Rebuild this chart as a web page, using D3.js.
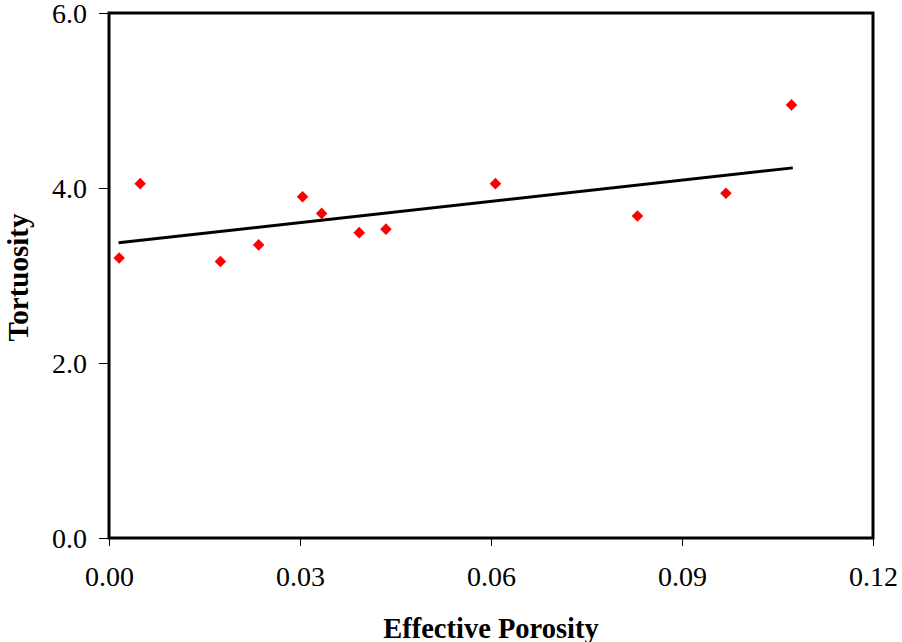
<!DOCTYPE html>
<html>
<head>
<meta charset="utf-8">
<script src="https://cdn.jsdelivr.net/npm/d3@7"></script>
<style>
  body { margin: 0; background: #fff; }
  svg { display: block; font-family: "Liberation Serif", "Times New Roman", serif; }
</style>
</head>
<body>
<div class="vis"></div>
<script>
// frame dimensions
const FRAME_WIDTH = 902;
const FRAME_HEIGHT = 642;
const MARGINS = {left: 109, right: 29, top: 13, bottom: 104};
const VIS_WIDTH = FRAME_WIDTH - MARGINS.left - MARGINS.right;
const VIS_HEIGHT = FRAME_HEIGHT - MARGINS.top - MARGINS.bottom;

// data
const porosity = [0.0016, 0.0049, 0.0175, 0.0235, 0.0304, 0.0334, 0.0393, 0.0435, 0.0607, 0.0830, 0.0969, 0.1072];
const tortuosity = [3.20, 4.05, 3.16, 3.35, 3.90, 3.71, 3.49, 3.53, 4.05, 3.68, 3.94, 4.95];
const trend_x = [0.0015, 0.1074];
const trend_y = [3.375, 4.23];
const x_ticks = [0, 0.03, 0.06, 0.09, 0.12];
const y_ticks = [0, 2, 4, 6];

const FRAME = d3.select('.vis')
  .append('svg')
    .attr('width', FRAME_WIDTH)
    .attr('height', FRAME_HEIGHT);

const xscale = d3.scaleLinear().domain([0, 0.12]).range([0, VIS_WIDTH]);
const yscale = d3.scaleLinear().domain([0, 6]).range([VIS_HEIGHT, 0]);

const plot = FRAME.append('g')
  .attr('transform', 'translate(' + MARGINS.left + ',' + MARGINS.top + ')');

// axes with outside ticks
const xaxis = plot.append('g')
  .attr('transform', 'translate(0,' + VIS_HEIGHT + ')')
  .call(d3.axisBottom(xscale).tickValues(x_ticks).tickFormat(d3.format('.2f'))
    .tickSize(8).tickPadding(20).tickSizeOuter(0));
const yaxis = plot.append('g')
  .call(d3.axisLeft(yscale).tickValues(y_ticks).tickFormat(d3.format('.1f'))
    .tickSize(10).tickPadding(12).tickSizeOuter(0));

[xaxis, yaxis].forEach((ax) => {
  ax.select('.domain').remove();
  ax.selectAll('line').attr('stroke', '#000').attr('stroke-width', 1);
  ax.selectAll('text')
    .attr('font-family', '"Liberation Serif", serif')
    .attr('font-size', '28px')
    .attr('fill', '#000');
});
yaxis.selectAll('text').attr('dy', '0.34em');

// plot frame
plot.append('rect')
  .attr('x', 0).attr('y', 0)
  .attr('width', VIS_WIDTH).attr('height', VIS_HEIGHT)
  .attr('fill', 'none')
  .attr('stroke', '#000')
  .attr('stroke-width', 3);

// trend line
plot.append('line')
  .attr('x1', xscale(trend_x[0])).attr('y1', yscale(trend_y[0]))
  .attr('x2', xscale(trend_x[1])).attr('y2', yscale(trend_y[1]))
  .attr('stroke', '#000')
  .attr('stroke-width', 3);

// data points as red diamonds
const diamond = d3.symbol().type(d3.symbolDiamond2).size(85);
plot.selectAll('.pt')
  .data(porosity)
  .enter().append('path')
    .attr('class', 'pt')
    .attr('d', diamond)
    .attr('transform', (d, i) => 'translate(' + xscale(d) + ',' + yscale(tortuosity[i]) + ')')
    .attr('fill', '#ff0000');

// axis titles
FRAME.append('text')
  .attr('x', MARGINS.left + VIS_WIDTH / 2)
  .attr('y', 638)
  .attr('text-anchor', 'middle')
  .attr('font-weight', 'bold')
  .attr('font-size', '28.5px')
  .text('Effective Porosity');

FRAME.append('text')
  .attr('transform', 'translate(28,' + (MARGINS.top + VIS_HEIGHT / 2 + 2) + ') rotate(-90)')
  .attr('text-anchor', 'middle')
  .attr('font-weight', 'bold')
  .attr('font-size', '29px')
  .text('Tortuosity');
</script>
</body>
</html>
